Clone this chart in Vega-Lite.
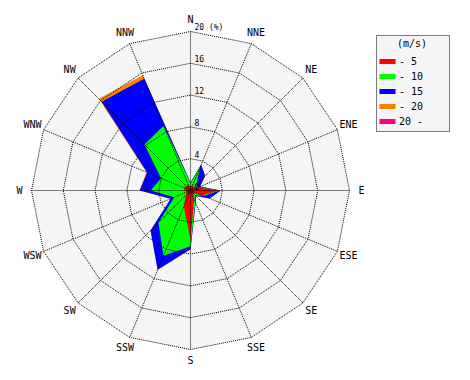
{
  "$schema": "https://vega.github.io/schema/vega-lite/v6.json",
  "width": 470,
  "height": 380,
  "autosize": "none",
  "padding": 0,
  "background": "white",
  "config": {
    "view": {"stroke": null},
    "font": "DejaVu Sans Mono",
    "legend": {"strokeDash": [1, 1], "titleFontWeight": "normal", "titleColor": "black", "labelColor": "black"}
  },
  "datasets": {
    "dirs": [
      {"dir": "N", "deg": 0}, {"dir": "NNE", "deg": 22.5}, {"dir": "NE", "deg": 45}, {"dir": "ENE", "deg": 67.5},
      {"dir": "E", "deg": 90}, {"dir": "ESE", "deg": 112.5}, {"dir": "SE", "deg": 135}, {"dir": "SSE", "deg": 157.5},
      {"dir": "S", "deg": 180}, {"dir": "SSW", "deg": 202.5}, {"dir": "SW", "deg": 225}, {"dir": "WSW", "deg": 247.5},
      {"dir": "W", "deg": 270}, {"dir": "WNW", "deg": 292.5}, {"dir": "NW", "deg": 315}, {"dir": "NNW", "deg": 337.5}
    ],
    "rings": [
      {"r": 4, "deg": [0, 22.5, 45, 67.5, 90, 112.5, 135, 157.5, 180, 202.5, 225, 247.5, 270, 292.5, 315, 337.5]},
      {"r": 8, "deg": [0, 22.5, 45, 67.5, 90, 112.5, 135, 157.5, 180, 202.5, 225, 247.5, 270, 292.5, 315, 337.5]},
      {"r": 12, "deg": [0, 22.5, 45, 67.5, 90, 112.5, 135, 157.5, 180, 202.5, 225, 247.5, 270, 292.5, 315, 337.5]},
      {"r": 16, "deg": [0, 22.5, 45, 67.5, 90, 112.5, 135, 157.5, 180, 202.5, 225, 247.5, 270, 292.5, 315, 337.5]},
      {"r": 20, "deg": [0, 22.5, 45, 67.5, 90, 112.5, 135, 157.5, 180, 202.5, 225, 247.5, 270, 292.5, 315, 337.5]}
    ],
    "ticks": [
      {"t": "0", "r": 0}, {"t": "4", "r": 4}, {"t": "8", "r": 8}, {"t": "12", "r": 12}, {"t": "16", "r": 16}, {"t": "20 (%)", "r": 20}
    ],
    "wind": [
      {"dir": "N", "deg": 0, "- 5": 0.5, "- 10": 0.9, "- 15": 1.0, "- 20": 1.0},
      {"dir": "NNE", "deg": 22.5, "- 5": 0.8, "- 10": 3.2, "- 15": 3.5, "- 20": 3.5},
      {"dir": "NE", "deg": 45, "- 5": 0.5, "- 10": 1.0, "- 15": 2.6, "- 20": 2.6},
      {"dir": "ENE", "deg": 67.5, "- 5": 1.0, "- 10": 1.1, "- 15": 1.3, "- 20": 1.3},
      {"dir": "E", "deg": 90, "- 5": 3.6, "- 10": 3.7, "- 15": 3.8, "- 20": 3.8},
      {"dir": "ESE", "deg": 112.5, "- 5": 1.6, "- 10": 1.8, "- 15": 2.6, "- 20": 2.6},
      {"dir": "SE", "deg": 135, "- 5": 0.5, "- 10": 0.8, "- 15": 1.0, "- 20": 1.0},
      {"dir": "SSE", "deg": 157.5, "- 5": 1.2, "- 10": 1.6, "- 15": 1.7, "- 20": 1.7},
      {"dir": "S", "deg": 180, "- 5": 6.2, "- 10": 7.0, "- 15": 7.4, "- 20": 7.4},
      {"dir": "SSW", "deg": 202.5, "- 5": 2.2, "- 10": 8.9, "- 15": 10.8, "- 20": 10.8},
      {"dir": "SW", "deg": 225, "- 5": 0.8, "- 10": 5.7, "- 15": 7.1, "- 20": 7.1},
      {"dir": "WSW", "deg": 247.5, "- 5": 0.5, "- 10": 2.2, "- 15": 2.7, "- 20": 2.7},
      {"dir": "W", "deg": 270, "- 5": 0.8, "- 10": 5.0, "- 15": 6.4, "- 20": 6.4},
      {"dir": "WNW", "deg": 292.5, "- 5": 0.8, "- 10": 4.0, "- 15": 5.9, "- 20": 6.0},
      {"dir": "NW", "deg": 315, "- 5": 0.8, "- 10": 8.2, "- 15": 15.8, "- 20": 16.3},
      {"dir": "NNW", "deg": 337.5, "- 5": 0.8, "- 10": 8.8, "- 15": 15.2, "- 20": 15.7}
    ]
  },
  "layer": [
    {
      "data": {"name": "rings"},
      "transform": [
        {"filter": "datum.r == 20"},
        {"flatten": ["deg"]},
        {"calculate": "datum.r*sin(datum.deg*PI/180)", "as": "x"},
        {"calculate": "datum.r*cos(datum.deg*PI/180)", "as": "y"}
      ],
      "mark": {"type": "line", "interpolate": "linear-closed", "fill": "#f5f5f5", "stroke": null, "strokeWidth": 0},
      "encoding": {
        "x": {"field": "x", "type": "quantitative", "scale": {"domain": [-23.962, 35.157], "nice": false, "zero": false}, "axis": null},
        "y": {"field": "y", "type": "quantitative", "scale": {"domain": [-23.836, 23.962], "nice": false, "zero": false}, "axis": null},
        "order": {"field": "deg", "type": "quantitative"}
      }
    },
    {
      "data": {"name": "wind"},
      "transform": [
        {"fold": ["- 5", "- 10", "- 15", "- 20"], "as": ["cls", "pct"]},
        {"filter": "datum.cls === '- 20'"},
        {"calculate": "datum.pct*sin(datum.deg*PI/180)", "as": "x"},
        {"calculate": "datum.pct*cos(datum.deg*PI/180)", "as": "y"}
      ],
      "mark": {"type": "line", "interpolate": "linear-closed", "filled": true, "strokeWidth": 0},
      "encoding": {
        "x": {"field": "x", "type": "quantitative"},
        "y": {"field": "y", "type": "quantitative"},
        "order": {"field": "deg", "type": "quantitative"},
        "color": {
          "field": "cls", "type": "nominal",
          "scale": {"domain": ["- 5", "- 10", "- 15", "- 20", "20 -"], "range": ["#ff0000", "#00ff00", "#0000ff", "#ff8000", "#ff0080"]},
          "legend": {
            "title": "(m/s)", "orient": "none", "legendX": 376, "legendY": 35,
            "titleFont": "DejaVu Sans Mono", "titleFontSize": 10, "titleFontWeight": "normal", "titleAnchor": "middle", "titlePadding": 5,
            "labelFont": "DejaVu Sans Mono", "labelFontSize": 10, "labelOffset": 4,
            "labelExpr": "datum.label + '\u2800\u2800\u2800'",
            "symbolType": "M-1.07,-0.33H1.07V0.33H-1.07Z", "symbolSize": 225, "symbolStrokeWidth": 0,
            "rowPadding": 2, "padding": 4,
            "strokeColor": "black", "fillColor": "#f5f5f5"
          }
        }
      }
    },
    {
      "data": {"name": "wind"},
      "transform": [
        {"fold": ["- 5", "- 10", "- 15", "- 20"], "as": ["cls", "pct"]},
        {"filter": "datum.cls === '- 15'"},
        {"calculate": "datum.pct*sin(datum.deg*PI/180)", "as": "x"},
        {"calculate": "datum.pct*cos(datum.deg*PI/180)", "as": "y"}
      ],
      "mark": {"type": "line", "interpolate": "linear-closed", "filled": true, "strokeWidth": 0},
      "encoding": {
        "x": {"field": "x", "type": "quantitative"},
        "y": {"field": "y", "type": "quantitative"},
        "order": {"field": "deg", "type": "quantitative"},
        "color": {"field": "cls", "type": "nominal"}
      }
    },
    {
      "data": {"name": "wind"},
      "transform": [
        {"fold": ["- 5", "- 10", "- 15", "- 20"], "as": ["cls", "pct"]},
        {"filter": "datum.cls === '- 10'"},
        {"calculate": "datum.pct*sin(datum.deg*PI/180)", "as": "x"},
        {"calculate": "datum.pct*cos(datum.deg*PI/180)", "as": "y"}
      ],
      "mark": {"type": "line", "interpolate": "linear-closed", "filled": true, "strokeWidth": 0},
      "encoding": {
        "x": {"field": "x", "type": "quantitative"},
        "y": {"field": "y", "type": "quantitative"},
        "order": {"field": "deg", "type": "quantitative"},
        "color": {"field": "cls", "type": "nominal"}
      }
    },
    {
      "data": {"name": "wind"},
      "transform": [
        {"fold": ["- 5", "- 10", "- 15", "- 20"], "as": ["cls", "pct"]},
        {"filter": "datum.cls === '- 5'"},
        {"calculate": "datum.pct*sin(datum.deg*PI/180)", "as": "x"},
        {"calculate": "datum.pct*cos(datum.deg*PI/180)", "as": "y"}
      ],
      "mark": {"type": "line", "interpolate": "linear-closed", "filled": true, "strokeWidth": 0},
      "encoding": {
        "x": {"field": "x", "type": "quantitative"},
        "y": {"field": "y", "type": "quantitative"},
        "order": {"field": "deg", "type": "quantitative"},
        "color": {"field": "cls", "type": "nominal"}
      }
    },
    {
      "data": {"name": "rings"},
      "transform": [
        {"flatten": ["deg"]},
        {"calculate": "datum.r*sin(datum.deg*PI/180)", "as": "x"},
        {"calculate": "datum.r*cos(datum.deg*PI/180)", "as": "y"}
      ],
      "mark": {"type": "line", "interpolate": "linear-closed", "stroke": "black", "strokeWidth": 1, "strokeDash": [1, 1]},
      "encoding": {
        "x": {"field": "x", "type": "quantitative"},
        "y": {"field": "y", "type": "quantitative"},
        "detail": {"field": "r", "type": "nominal"},
        "order": {"field": "deg", "type": "quantitative"}
      }
    },
    {
      "data": {"name": "dirs"},
      "transform": [
        {"calculate": "20*sin(datum.deg*PI/180)", "as": "x"},
        {"calculate": "20*cos(datum.deg*PI/180)", "as": "y"}
      ],
      "mark": {"type": "rule", "stroke": "black", "strokeWidth": 1, "strokeDash": [1, 1]},
      "encoding": {
        "x": {"field": "x", "type": "quantitative"},
        "y": {"field": "y", "type": "quantitative"},
        "x2": {"datum": 0},
        "y2": {"datum": 0}
      }
    },
    {
      "data": {"name": "dirs"},
      "transform": [
        {"calculate": "21.5*sin(datum.deg*PI/180)", "as": "x"},
        {"calculate": "21.5*cos(datum.deg*PI/180)", "as": "y"}
      ],
      "mark": {"type": "text", "font": "DejaVu Sans Mono", "fontSize": 10, "align": "center", "baseline": "middle", "color": "black"},
      "encoding": {
        "x": {"field": "x", "type": "quantitative"},
        "y": {"field": "y", "type": "quantitative"},
        "text": {"field": "dir"}
      }
    },
    {
      "data": {"name": "ticks"},
      "mark": {"type": "text", "font": "DejaVu Sans Mono", "fontSize": 8, "align": "left", "baseline": "alphabetic", "dx": 4, "dy": -1, "color": "black"},
      "encoding": {
        "x": {"datum": 0, "type": "quantitative"},
        "y": {"field": "r", "type": "quantitative"},
        "text": {"field": "t"}
      }
    }
  ]
}
